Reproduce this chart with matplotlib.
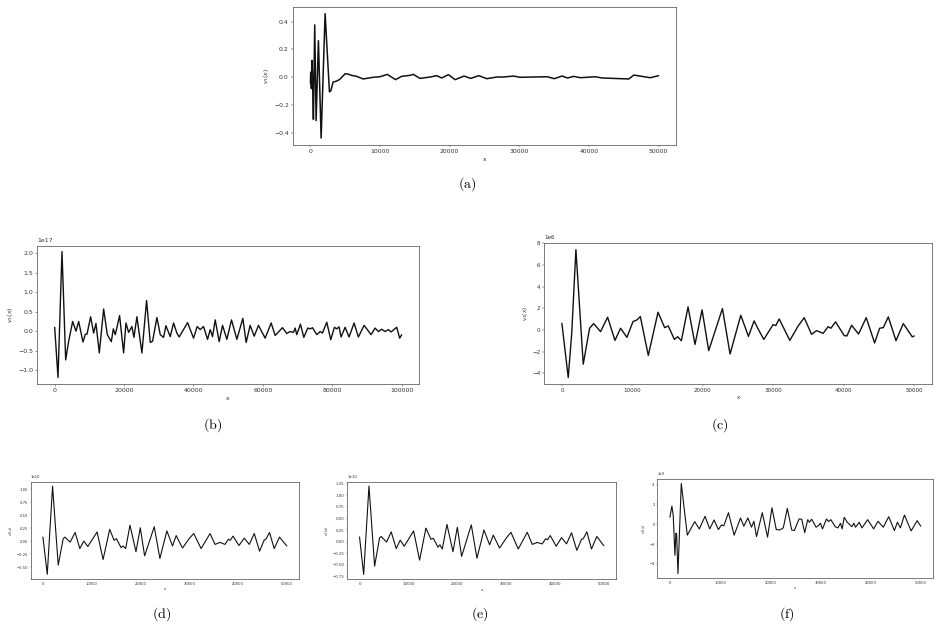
import matplotlib
matplotlib.use("Agg")
import matplotlib.pyplot as plt

# panel (a): v1(x), x up to 50000
xa = [0, 50, 140, 240, 340, 430, 620, 820, 1150, 1540, 2110, 2735, 2930, 3260, 3740, 4220,
      4990, 5420, 5900, 6620, 7580, 9020, 9980, 11040, 12230, 13100, 14300, 14780, 15740,
      17180, 18140, 18860, 19820, 20780, 22070, 23030, 24180, 25330, 26770, 27730, 29170,
      30130, 34010, 35030, 36130, 36940, 37810, 38770, 40930, 41890, 45730, 46440, 48840, 50000]
ya = [-0.043, 0.036, -0.083, 0.12, -0.095, -0.305, 0.376, -0.314, 0.262, -0.44, 0.457, -0.107,
      -0.10, -0.036, -0.03, -0.017, 0.024, 0.021, 0.012, 0.005, -0.014, -0.002, 0.002, 0.019,
      -0.019, 0.005, 0.012, 0.019, -0.01, 0.0, 0.01, -0.007, 0.017, -0.019, 0.007, -0.01, 0.01,
      -0.012, 0.0, 0.0, 0.007, -0.002, 0.002, -0.012, 0.007, -0.007, 0.005, -0.005, 0.002,
      -0.007, -0.014, 0.014, -0.005, 0.01]

# panel (b): x up to 100000, values in units of 1e17
xb = [0, 960, 2110, 3170, 4030, 5180, 6140, 6910, 8160, 8830, 9310, 10360, 11230, 11900, 12860,
      14110, 15170, 16320, 16900, 17470, 18710, 19870, 20540, 21310, 22260, 22840, 23700, 25140,
      26490, 27540, 28210, 29460, 30420, 31380, 32050, 33300, 34260, 35220, 35890, 38290, 40020,
      41070, 41930, 42900, 44050, 44820, 45490, 46260, 47410, 48370, 49620, 50960, 52500, 54220,
      55180, 56330, 57490, 58730, 60650, 62380, 63530, 65640, 66890, 67850, 68810, 69290, 69770,
      70820, 71790, 72940, 73710, 74280, 75530, 76490, 77160, 78410, 79560, 80610, 81280, 81950,
      82530, 83690, 84830, 86280, 87520, 89170, 91170, 92320, 93280, 94240, 95200, 96160, 96930,
      98560, 99420, 100000]
yb = [0.10, -1.19, 2.05, -0.74, -0.26, 0.25, 0.0, 0.25, -0.28, -0.08, -0.08, 0.37, -0.05, 0.2,
      -0.56, 0.57, -0.09, -0.27, 0.06, -0.09, 0.40, -0.56, 0.21, -0.03, 0.12, -0.16, 0.37, -0.56,
      0.79, -0.29, -0.26, 0.35, -0.09, -0.16, 0.14, -0.14, 0.21, -0.05, -0.15, 0.22, -0.18,
      0.12, 0.04, 0.12, -0.21, 0.04, -0.14, 0.29, -0.27, 0.15, -0.21, 0.29, -0.21, 0.33, -0.29,
      0.15, -0.13, 0.15, -0.18, 0.21, -0.11, 0.09, -0.06, -0.01, -0.03, 0.08, -0.09, 0.18,
      -0.16, 0.08, 0.06, 0.09, -0.09, -0.01, -0.05, 0.23, -0.22, 0.1, 0.06, 0.11, -0.15, 0.1,
      -0.15, 0.21, -0.15, 0.15, -0.09, 0.08, -0.01, 0.05, -0.01, 0.04, -0.02, 0.1, -0.18, -0.09]

# panel (c): values in units of 1e6
xc = [0, 900, 1400, 1990, 3030, 3930, 4500, 5490, 6490, 7530, 8330, 9230, 10090, 10650, 11130,
      12260, 13640, 14580, 15100, 15960, 16430, 16950, 17900, 18890, 19890, 20830, 22780, 23860,
      25380, 26470, 27270, 27840, 28650, 29970, 30350, 30830, 32340, 33520, 34380, 35420, 36130,
      37070, 37780, 38170, 38830, 40060, 40440, 41100, 42090, 43180, 44370, 45080, 45600, 46310,
      47400, 48440, 49720, 50000]
yc = [0.61, -4.40, -0.3, 7.41, -3.17, 0.15, 0.58, -0.16, 1.17, -0.97, 0.15, -0.69, 0.77, 0.92,
      1.23, -2.36, 1.63, 0.21, 0.36, -0.88, -0.63, -1.0, 2.12, -1.34, 1.85, -1.92, 1.97, -2.23,
      1.35, -0.6, 0.83, 0.09, -0.88, 0.49, 0.4, 1.01, -0.97, 0.36, 1.13, -0.41, -0.07, -0.32,
      0.30, 0.15, 0.74, -0.53, -0.56, 0.43, -0.38, 1.13, -1.21, 0.15, 0.21, 1.2, -1.0, 0.58,
      -0.65, -0.56]

# panel (d): values in units of 1e10
xd = [0, 886, 1975, 3134, 4155, 4496, 5586, 6608, 7561, 8379, 9196, 11104, 12330, 13692, 14578,
      15055, 16008, 16417, 16962, 17847, 19074, 19959, 20845, 22820, 23978, 25409, 26567, 27316,
      28610, 30040, 30926, 32426, 34264, 35286, 36308, 37330, 38011, 38420, 38964, 40190, 41280,
      42301, 43323, 44413, 45367, 45707, 46456, 47410, 48500, 50000]
yd = [0.083, -0.635, 1.06, -0.46, 0.05, 0.08, -0.015, 0.17, -0.14, 0.005, -0.10, 0.18, -0.35,
      0.23, 0.02, 0.05, -0.12, -0.09, -0.14, 0.31, -0.2, 0.26, -0.28, 0.28, -0.33, 0.20, -0.09,
      0.11, -0.13, 0.06, 0.15, -0.14, 0.15, -0.06, -0.02, -0.06, 0.04, 0.02, 0.1, -0.08, 0.06,
      -0.06, 0.15, -0.19, 0.025, 0.04, 0.17, -0.14, 0.08, -0.09]

# panel (e): values in units of 1e10
xe = [0, 840, 1930, 3080, 4100, 4440, 5530, 6480, 7500, 8330, 9150, 11060, 12290, 13580, 14620,
      15100, 16050, 16460, 16930, 17890, 19120, 20010, 20890, 22870, 24030, 25460, 26620, 27370,
      28660, 30090, 30980, 32480, 34320, 35340, 36360, 37380, 38070, 38480, 39020, 40250, 41340,
      42360, 43380, 44470, 45430, 45770, 46520, 47470, 48560, 50000]
ye = [0.10, -0.71, 1.20, -0.53, 0.08, 0.11, -0.01, 0.21, -0.15, 0.03, -0.10, 0.23, -0.40, 0.29,
      0.05, 0.07, -0.12, -0.07, -0.16, 0.37, -0.22, 0.31, -0.32, 0.36, -0.36, 0.25, -0.07, 0.14,
      -0.14, 0.085, 0.2, -0.16, 0.2, -0.06, -0.02, -0.05, 0.06, 0.04, 0.13, -0.1, 0.085, -0.05,
      0.19, -0.19, 0.05, 0.06, 0.21, -0.16, 0.11, -0.09]

# panel (f): values in units of 1e9
xf = [0, 400, 670, 1000, 1200, 1340, 1610, 2270, 3470, 4940, 5870, 7010, 7940, 8810, 9670,
      10270, 10740, 11670, 12810, 14070, 14740, 15540, 16270, 16740, 17270, 18410, 19470, 20340,
      21200, 21940, 22600, 23400, 24270, 24800, 25740, 26270, 26870, 27470, 27800, 28270, 29140,
      29610, 30010, 30410, 31210, 31610, 32070, 32940, 33470, 34010, 34340, 34740, 35340, 36270,
      36670, 37000, 37740, 38270, 39410, 40610, 41470, 42540, 43610, 44740, 45340, 45940, 46740,
      48070, 49270, 50000]
yf = [0.7, 1.83, 0.86, -3.13, -0.9, -1.0, -4.97, 4.1, -1.1, 0.26, -0.47, 0.8, -0.47, 0.43, -0.54,
      -0.07, -0.17, 1.16, -1.1, 0.63, -0.2, 0.63, -0.3, 0.3, -1.24, 1.16, -1.3, 1.66, -0.54,
      -0.57, -0.37, 1.6, -0.57, -0.63, 0.53, 0.5, -0.84, 0.46, 0.2, 0.5, -0.3, -0.13, 0.1, -0.47,
      0.53, 0.27, 0.46, -0.24, -0.37, 0.1, -0.47, 0.7, 0.2, -0.24, 0.1, -0.3, 0.2, -0.37, 0.46,
      -0.47, 0.3, -0.3, 0.76, -0.64, 0.2, -0.37, 0.93, -0.67, 0.36, -0.2]

fig = plt.figure(figsize=(9.4, 6.29), dpi=100)

panels = [
    # rect, x, y, scale, ylim, xlim, font size, line width
    ([0.3117, 0.7695, 0.4074, 0.2194], xa, ya, 1, (-0.49, 0.505), (-2500, 52500), 4.4, 1.1),
    ([0.0397, 0.3895, 0.4061, 0.2199], xb, yb, 1e17, (-1.36e17, 2.2e17), (-5000, 105000), 4.5, 1.0),
    ([0.5790, 0.3895, 0.4124, 0.2237], xc, yc, 1e6, (-5.0e6, 8.0e6), (-2500, 52500), 4.1, 1.0),
    ([0.0327, 0.0795, 0.2854, 0.1537], xd, yd, 1e10, (-0.725e10, 1.135e10), (-2500, 52500), 2.7, 0.8),
    ([0.3695, 0.0790, 0.2859, 0.1542], xe, ye, 1e10, (-0.815e10, 1.28e10), (-2500, 52500), 2.8, 0.8),
    ([0.6993, 0.0805, 0.2936, 0.1579], xf, yf, 1e9, (-5.45e9, 4.55e9), (-2500, 52500), 2.7, 0.8),
]

for rect, xs, ys, sc, yl, xl, fs, lw in panels:
    ax = fig.add_axes(rect)
    ax.plot(xs, [v * sc for v in ys], color='#111111', lw=lw,
            solid_joinstyle='round', solid_capstyle='round')
    ax.set_xlim(*xl)
    ax.set_ylim(*yl)
    k = fs / 10
    ax.tick_params(labelsize=fs, length=3.5 * k, width=0.8 * k, pad=3.5 * k, colors='#333333')
    ax.yaxis.get_offset_text().set_fontsize(fs)
    ax.set_xlabel('x', fontsize=fs, labelpad=4 * k, color='#333333')
    ax.set_ylabel('$v_1(x)$', fontsize=fs, labelpad=4 * k, color='#333333')
    for s in ax.spines.values():
        s.set_linewidth(max(0.8 * k, 0.6))
        s.set_color('#666666')

captions = ['(a)', '(b)', '(c)', '(d)', '(e)', '(f)']
cap_x = [467, 213, 720, 162, 480, 787]
cap_y = [184, 425, 425, 614, 614, 614]
for c, cx, cy in zip(captions, cap_x, cap_y):
    fig.text(cx / 940, 1 - cy / 629, r'$\mathrm{' + c + '}$', math_fontfamily='cm',
             fontsize=10, ha='center', va='center')

fig.savefig('out.png', dpi=100)
